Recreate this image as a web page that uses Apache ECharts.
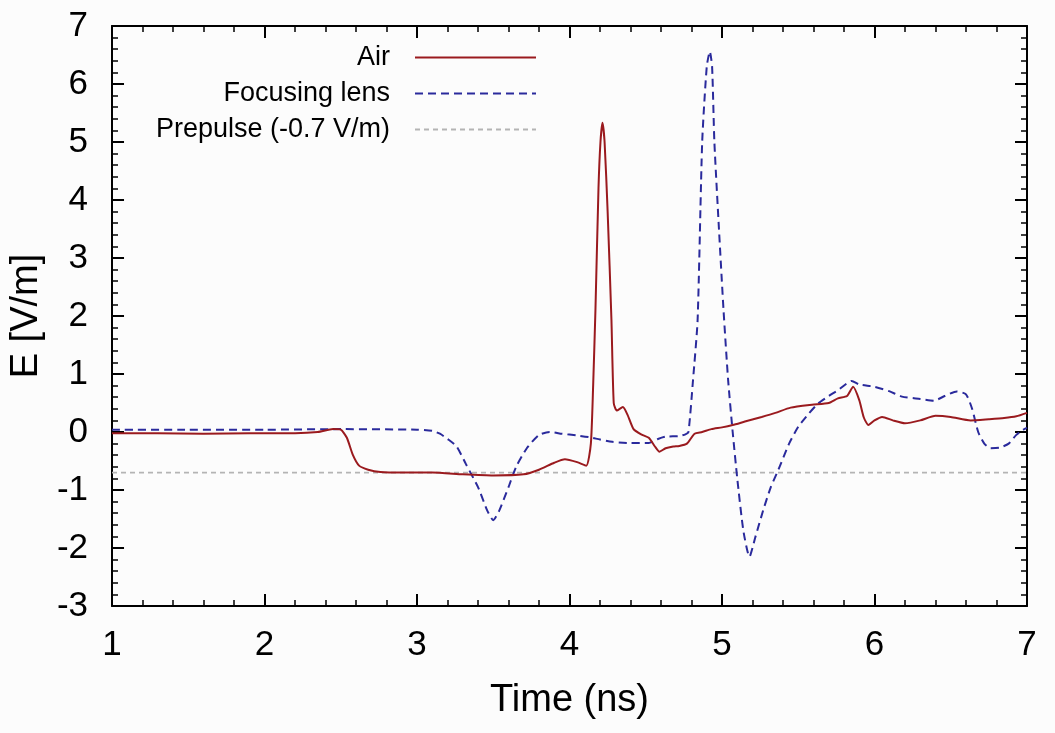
<!DOCTYPE html>
<html>
<head>
<meta charset="utf-8">
<script src="https://cdn.jsdelivr.net/npm/echarts@6/dist/echarts.min.js"></script>
<style>
html,body{margin:0;padding:0;background:#fcfcfc;}
#chart{width:1055px;height:733px;}
</style>
</head>
<body>
<div id="chart"></div>
<script>
// Air (solid dark red)
var airT = [1.0,1.3,1.6,1.9,2.2,2.35,2.45,2.5,2.54,2.58,2.62,2.68,2.76,2.9,3.1,3.3,3.5,3.7,3.8,3.9,3.97,4.05,4.11,4.14,4.155,4.17,4.19,4.203,4.216,4.23,4.25,4.275,4.29,4.31,4.35,4.38,4.42,4.47,4.52,4.56,4.59,4.63,4.68,4.72,4.77,4.82,4.87,4.93,5.0,5.07,5.15,5.26,5.35,5.45,5.59,5.7,5.76,5.82,5.86,5.9,5.93,5.96,6.0,6.05,6.12,6.2,6.3,6.4,6.5,6.63,6.75,6.85,6.93,7.0];
var airE = [-0.02,-0.02,-0.03,-0.02,-0.02,0.0,0.05,0.04,-0.1,-0.4,-0.58,-0.65,-0.69,-0.70,-0.70,-0.73,-0.75,-0.73,-0.65,-0.53,-0.47,-0.52,-0.58,-0.2,0.8,2.1,4.2,5.0,5.33,5.0,3.8,1.93,0.5,0.37,0.43,0.3,0.05,-0.04,-0.1,-0.25,-0.34,-0.28,-0.25,-0.24,-0.2,-0.03,0.0,0.05,0.08,0.12,0.18,0.26,0.33,0.42,0.47,0.5,0.58,0.62,0.78,0.55,0.25,0.12,0.2,0.26,0.2,0.15,0.2,0.28,0.26,0.2,0.22,0.24,0.27,0.33];
// Focusing lens (blue dashed)
var lensT = [1.0,1.5,2.0,2.5,3.0,3.1,3.15,3.2,3.26,3.32,3.4,3.46,3.5,3.54,3.6,3.65,3.72,3.8,3.87,3.95,4.05,4.13,4.2,4.28,4.4,4.52,4.58,4.63,4.72,4.76,4.78,4.81,4.84,4.87,4.9,4.92,4.935,4.95,4.98,5.01,5.04,5.07,5.1,5.14,5.18,5.22,5.27,5.32,5.37,5.44,5.5,5.57,5.63,5.7,5.76,5.82,5.85,5.9,6.0,6.1,6.18,6.3,6.39,6.46,6.54,6.6,6.64,6.68,6.72,6.76,6.82,6.88,6.93,6.97,7.0];
var lensE = [0.04,0.04,0.04,0.05,0.04,0.02,-0.03,-0.12,-0.25,-0.55,-0.95,-1.35,-1.52,-1.35,-0.95,-0.6,-0.28,-0.05,0.0,-0.03,-0.06,-0.09,-0.13,-0.17,-0.19,-0.19,-0.12,-0.08,-0.07,-0.04,0.0,0.9,1.93,5.0,6.3,6.56,6.3,5.0,3.5,2.1,0.9,0.0,-0.8,-1.7,-2.15,-1.8,-1.35,-0.95,-0.65,-0.2,0.09,0.32,0.49,0.62,0.72,0.84,0.88,0.82,0.78,0.7,0.61,0.57,0.54,0.62,0.70,0.65,0.4,0.0,-0.2,-0.28,-0.27,-0.2,-0.05,0.03,0.07];
// Prepulse level
var prepulseT = [1.0, 7.0];
var prepulseE = [-0.7, -0.7];

var seriesNames = ['Air', 'Focusing lens', 'Prepulse (-0.7 V/m)'];
var xTicks = {min: 1, max: 7, interval: 1};
var yTicks = {min: -3, max: 7, interval: 1};

function zip(a, b) { return a.map(function (v, i) { return [v, b[i]]; }); }

var FONT = '"Liberation Sans", Arial, Helvetica, sans-serif';

function xAx(pos, showLabel) {
  return {
    type: 'value', position: pos, min: xTicks.min, max: xTicks.max, interval: xTicks.interval,
    axisLine: {show: true, onZero: false, lineStyle: {color: '#000', width: 2}},
    axisTick: {show: true, inside: true, length: 12, lineStyle: {color: '#000', width: 2}},
    minorTick: {show: true, splitNumber: 5, length: 6, lineStyle: {color: '#000', width: 1.5}},
    splitLine: {show: false},
    axisLabel: {show: showLabel, fontSize: 35, margin: 22, color: '#000', fontFamily: FONT},
    name: showLabel ? 'Time (ns)' : '', nameLocation: 'middle', nameGap: 76,
    nameTextStyle: {fontSize: 38, color: '#000', fontFamily: FONT}
  };
}
function yAx(pos, showLabel) {
  return {
    type: 'value', position: pos, min: yTicks.min, max: yTicks.max, interval: yTicks.interval,
    axisLine: {show: true, onZero: false, lineStyle: {color: '#000', width: 2}},
    axisTick: {show: true, inside: true, length: 12, lineStyle: {color: '#000', width: 2}},
    minorTick: {show: true, splitNumber: 5, length: 6, lineStyle: {color: '#000', width: 1.5}},
    splitLine: {show: false},
    axisLabel: {show: showLabel, fontSize: 35, margin: 24, color: '#000', fontFamily: FONT},
    name: showLabel ? 'E [V/m]' : '', nameLocation: 'middle', nameGap: 60, nameRotate: 90,
    nameTextStyle: {fontSize: 38, color: '#000', fontFamily: FONT}
  };
}

function leg(name, top) {
  return {
    data: [name], orient: 'horizontal', align: 'right', right: 518, top: top,
    padding: 0, itemWidth: 121, itemHeight: 14, selectedMode: false,
    itemStyle: {opacity: 0, borderWidth: 0},
    textStyle: {fontSize: 27, color: '#000', fontFamily: FONT, padding: [6, 20, 0, 0]}
  };
}

var chart = echarts.init(document.getElementById('chart'), null, {renderer: 'canvas'});
chart.setOption({
  backgroundColor: '#fcfcfc',
  animation: false,
  grid: {left: 108, right: 28, top: 26, bottom: 127, containLabel: false},
  xAxis: [xAx('bottom', true), xAx('top', false)],
  yAxis: [yAx('left', true), yAx('right', false)],
  legend: [leg(seriesNames[0], 44), leg(seriesNames[1], 80), leg(seriesNames[2], 116)],
  series: [
    {
      name: seriesNames[2], type: 'line', data: zip(prepulseT, prepulseE), showSymbol: false, symbol: 'none',
      lineStyle: {color: '#b4b4b4', width: 1.6, type: [5, 4]}, itemStyle: {color: '#b4b4b4'}, z: 1
    },
    {
      name: seriesNames[1], type: 'line', data: zip(lensT, lensE), showSymbol: false, symbol: 'none', smooth: 0.2,
      lineStyle: {color: '#2a2a9c', width: 2, type: [8, 5]}, itemStyle: {color: '#2a2a9c'}, z: 2
    },
    {
      name: seriesNames[0], type: 'line', data: zip(airT, airE), showSymbol: false, symbol: 'none', smooth: 0.2,
      lineStyle: {color: '#9a1a1e', width: 2}, itemStyle: {color: '#9a1a1e'}, z: 3
    }
  ]
});
</script>
</body>
</html>
